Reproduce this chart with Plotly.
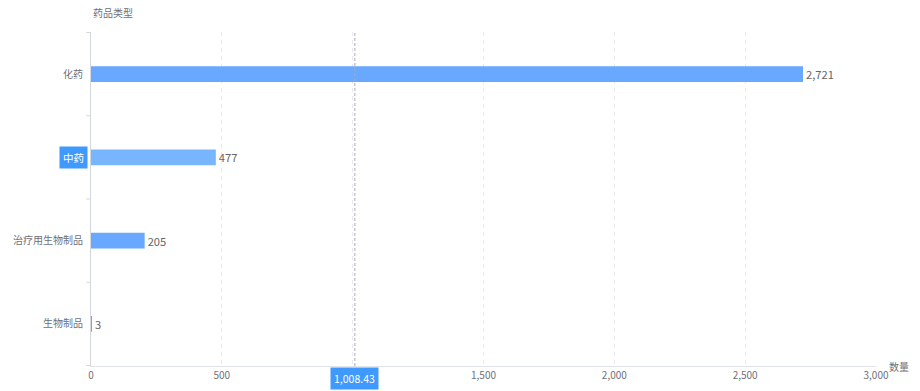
import plotly.graph_objects as go

categories = ["化药", "中药", "治疗用生物制品", "生物制品"]
values = [2721, 477, 205, 3]
highlight_category = "中药"
pointer_value = 1008.43
x_ticks = [0, 500, 1000, 1500, 2000, 2500, 3000]
y_axis_name = "药品类型"
x_axis_name = "数量"

BASE = "#69a8ff"
HILITE = "#77b5ff"
FONT = "Noto Sans CJK SC, Microsoft YaHei, sans-serif"
LABEL = "#6e7079"

colors = [HILITE if c == highlight_category else BASE for c in categories]
tick_text = ["" if c == highlight_category else c for c in categories]
x_tick_text = ["" if abs(v - pointer_value) < 100 else f"{v:,}" for v in x_ticks]

fig = go.Figure()
fig.add_trace(go.Bar(
    y=categories, x=values, orientation="h",
    marker=dict(color=colors, line=dict(width=0)),
    width=0.19,
    text=values, texttemplate="%{x:,}", textposition="outside",
    textfont=dict(color="#666666", size=12, family=FONT),
    cliponaxis=False, hoverinfo="skip",
))

fig.update_layout(
    width=920, height=391,
    margin=dict(l=91, r=44, t=32, b=25),
    plot_bgcolor="white", paper_bgcolor="white",
    showlegend=False,
    font=dict(family=FONT, size=10, color=LABEL),
    bargap=0.8,
)
fig.update_xaxes(
    range=[0, 3000], tickvals=x_ticks, ticktext=x_tick_text,
    showgrid=True, gridcolor="#e9ebf2", griddash="4px,4px", gridwidth=1,
    zeroline=False, showline=True, linecolor="#e0e3ea", linewidth=1,
    ticks="", tickfont=dict(size=10, color=LABEL), automargin=False,
)
fig.update_yaxes(
    categoryorder="array", categoryarray=categories, autorange="reversed",
    tickvals=categories, ticktext=tick_text,
    showgrid=False, zeroline=False, showline=True, linecolor="#d4d7de", linewidth=1,
    ticks="", ticklabelstandoff=5, tickfont=dict(size=10, color=LABEL), automargin=False,
)

# category boundary ticks (ECharts style)
n = len(categories)
for i in range(n + 1):
    fig.add_shape(type="line", xref="paper", yref="y",
                  x0=-0.006, x1=0, y0=i - 0.5, y1=i - 0.5,
                  line=dict(color="#d4d7de", width=1))

# axis pointer line
fig.add_shape(type="line", xref="x", yref="paper", x0=pointer_value, x1=pointer_value,
              y0=0, y1=1, line=dict(color="#a9a9b8", width=1, dash="3px,2px"))
fig.add_annotation(x=pointer_value, xref="x", y=0, yref="paper", yanchor="top",
                   yshift=-1, text=f"{pointer_value:,.2f}", showarrow=False,
                   bgcolor="#4099ff", font=dict(color="white", size=10.5, family=FONT),
                   borderpad=3)
fig.add_annotation(x=0, xref="paper", y=highlight_category, yref="y", xanchor="right",
                   xshift=-3, text=highlight_category, showarrow=False,
                   bgcolor="#4099ff", font=dict(color="white", size=10.5, family=FONT),
                   borderpad=3)

# axis names
fig.add_annotation(x=0, xref="paper", y=1, yref="paper", xanchor="left", yanchor="bottom",
                   yshift=10, text=y_axis_name, showarrow=False,
                   font=dict(size=10, color=LABEL))
fig.add_annotation(x=1, xref="paper", y=0, yref="paper", xanchor="left", yanchor="middle",
                   xshift=11, yshift=0, text=x_axis_name, showarrow=False,
                   font=dict(size=10, color=LABEL))

fig.write_html("out.html")
